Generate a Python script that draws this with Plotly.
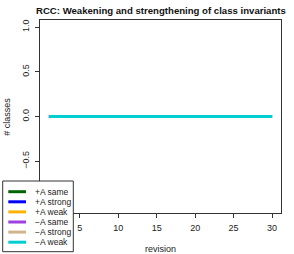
import plotly.graph_objects as go

revisions = list(range(1, 31))
series_names = ["+A same", "+A strong", "+A weak", "\u2212A same", "\u2212A strong", "\u2212A weak"]
series_colors = ["#006400", "#0000FF", "#FFB300", "#A040E0", "#D2B48C", "#00CED1"]
series_values = [
    [0] * 30,
    [0] * 30,
    [0] * 30,
    [0] * 30,
    [0] * 30,
    [0] * 30,
]
x_ticks = [5, 10, 15, 20, 25, 30]
y_ticks = [-1.0, -0.5, 0.0, 0.5, 1.0]
y_tick_labels = ["\u22121.0", "\u22120.5", "0.0", "0.5", "1.0"]

W, H = 294, 254
L, R, T, B = 40, 281, 20, 213
pw, ph = R - L, B - T

def px(x):
    return (x - L) / pw

def py(y):
    return (B - y) / ph

fig = go.Figure()
for name, color, vals in zip(series_names, series_colors, series_values):
    fig.add_trace(go.Scatter(x=revisions, y=vals, mode="lines", name=name,
                             line=dict(color=color, width=3), showlegend=False))

font = "Liberation Sans, Arial, sans-serif"
fig.update_layout(
    width=W, height=H,
    margin=dict(l=L, r=W - R, t=T, b=H - B),
    paper_bgcolor="white", plot_bgcolor="white",
    font=dict(family=font, size=9, color="#222"),
    xaxis=dict(range=[-0.16, 31.16], tickvals=x_ticks, ticks="outside", ticklen=4,
               tickcolor="#333", showgrid=False, zeroline=False, showline=True,
               linecolor="#333", linewidth=1, mirror=True,
               tickfont=dict(size=9, color="#222"), ticklabelstandoff=2),
    yaxis=dict(range=[-1.08, 1.08], tickvals=y_ticks, ticktext=y_tick_labels,
               ticks="outside", ticklen=4, tickcolor="#333", tickangle=-90,
               showgrid=False, zeroline=False, showline=True, linecolor="#333",
               linewidth=1, mirror=True, tickfont=dict(size=9, color="#222"),
               ticklabelstandoff=2),
)

annotations = [
    dict(text="<b>RCC: Weakening and strengthening of class invariants</b>",
         x=px(160.5), y=py(10), xref="paper", yref="paper", showarrow=False,
         font=dict(size=9.6, color="#111"), xanchor="center", yanchor="middle"),
    dict(text="revision", x=px(160.5), y=py(249), xref="paper", yref="paper",
         showarrow=False, font=dict(size=9, color="#222"), xanchor="center", yanchor="middle"),
    dict(text="# classes", x=px(7), y=py(116.7), xref="paper", yref="paper",
         showarrow=False, textangle=-90, font=dict(size=9, color="#222"),
         xanchor="center", yanchor="middle"),
]

shapes = [
    dict(type="rect", xref="paper", yref="paper", x0=px(2.7), x1=px(73.3),
         y0=py(251.7), y1=py(181), line=dict(color="#333", width=1),
         fillcolor="white", layer="above"),
]
for i, (name, color) in enumerate(zip(series_names, series_colors)):
    yy = 191.7 + i * 10.1
    shapes.append(dict(type="line", xref="paper", yref="paper", x0=px(8.3), x1=px(26),
                       y0=py(yy), y1=py(yy), line=dict(color=color, width=3), layer="above"))
    annotations.append(dict(text=name, x=px(33), y=py(yy), xref="paper", yref="paper",
                            showarrow=False, xanchor="left", yanchor="middle",
                            font=dict(size=8.5, color="#222")))

fig.update_layout(annotations=annotations, shapes=shapes)
fig.write_html("out.html", config={"displayModeBar": False},
               post_script="document.body.style.margin='0';document.body.style.overflow='hidden';")
